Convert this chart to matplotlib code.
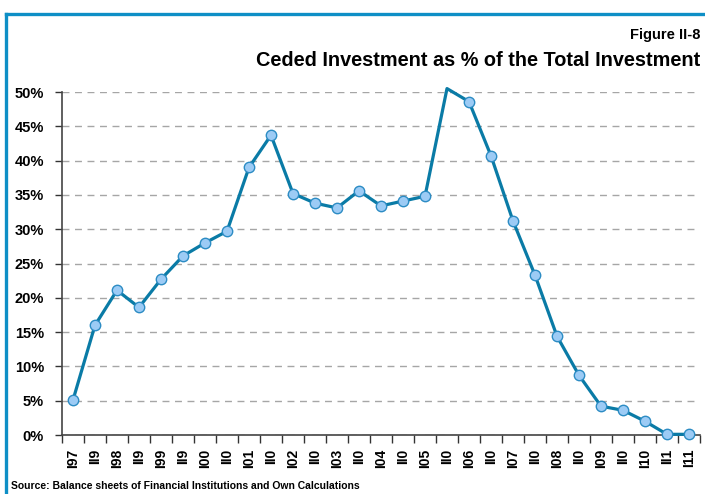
import matplotlib
matplotlib.use("Agg")
import matplotlib.pyplot as plt
from matplotlib.lines import Line2D
from matplotlib.ticker import FixedLocator, FuncFormatter

plt.rcParams["font.family"] = ["Liberation Sans", "DejaVu Sans"]
plt.rcParams["font.weight"] = "bold"

# half-years I97 .. I11, labels truncated to 3 characters as in the original
periods = ["I97", "II9", "I98", "II9", "I99", "II9", "I00", "II0", "I01", "II0",
           "I02", "II0", "I03", "II0", "I04", "II0", "I05", "II0", "I06", "II0",
           "I07", "II0", "I08", "II0", "I09", "II0", "I10", "II1", "I11"]
ceded_pct = [5.1, 16.0, 21.1, 18.6, 22.7, 26.1, 28.0, 29.7, 39.0, 43.7,
             35.2, 33.8, 33.1, 35.6, 33.4, 34.1, 34.8, 50.5, 48.6, 40.7,
             31.2, 23.3, 14.4, 8.7, 4.2, 3.6, 2.0, 0.1, 0.1]
y_ticks = [0, 5, 10, 15, 20, 25, 30, 35, 40, 45, 50]

line_col = "#0A7BA6"
face_col = "#9CCBF5"
edge_col = "#2C8CC4"
frame_col = "#0E8FC6"

fig = plt.figure(figsize=(7.05, 4.94), dpi=100)
ax = fig.add_axes([62 / 705, 1 - 435 / 494, 638 / 705, 343 / 494])

x = list(range(len(periods)))
ax.plot(x, ceded_pct, color=line_col, lw=2.3, zorder=3, clip_on=False)
# markers outside the 0-50 range are dropped, like the original
inside = [i for i, v in enumerate(ceded_pct) if v <= 50]
ax.plot([x[i] for i in inside], [ceded_pct[i] for i in inside], ls="none",
        marker="o", ms=7.5, mfc=face_col, mec=edge_col, mew=1.0, zorder=4,
        clip_on=False)

ax.set_xlim(-0.5, len(periods) - 0.5)
ax.set_ylim(0, 50)

ax.set_xticks(x)
ax.set_xticklabels(periods, rotation=90, fontsize=10, fontweight="bold")
ax.tick_params(axis="x", which="major", length=0, pad=10)
ax.xaxis.set_minor_locator(FixedLocator([i - 0.5 for i in range(len(periods) + 1)]))
ax.tick_params(axis="x", which="minor", length=6, width=1, color="#333333")

ax.yaxis.set_major_locator(FixedLocator(y_ticks))
ax.yaxis.set_major_formatter(FuncFormatter(lambda v, p: f"{v:.0f}%"))
ax.tick_params(axis="y", length=5, width=1, color="#333333", pad=8,
               labelsize=10.5)
for lab in ax.get_yticklabels():
    lab.set_fontweight("bold")

ax.grid(axis="y", color="#A6A6A6", ls=(0, (5, 4)), lw=1)
ax.set_axisbelow(True)
for side in ["top", "right"]:
    ax.spines[side].set_visible(False)
for side in ["left", "bottom"]:
    ax.spines[side].set_color("#444444")
    ax.spines[side].set_linewidth(1.2)
ax.spines["left"].set_zorder(5)

# blue frame on top and left
fig.add_artist(Line2D([5.5 / 705, 1.0], [1 - 14 / 494, 1 - 14 / 494],
                      color=frame_col, lw=2.4, transform=fig.transFigure))
fig.add_artist(Line2D([5.5 / 705, 5.5 / 705], [0, 1 - 14 / 494],
                      color=frame_col, lw=2.4, transform=fig.transFigure))

fig.text(700 / 705, 1 - 35 / 494, "Figure II-8", ha="right", va="center",
         fontsize=10.5, fontweight="bold")
fig.text(700 / 705, 1 - 60 / 494, "Ceded Investment as % of the Total Investment",
         ha="right", va="center", fontsize=14.3, fontweight="bold")
fig.text(11 / 705, 1 - 486 / 494,
         "Source: Balance sheets of Financial Institutions and Own Calculations",
         ha="left", va="center", fontsize=7.5, fontweight="bold")

fig.savefig("out.png", dpi=100)
